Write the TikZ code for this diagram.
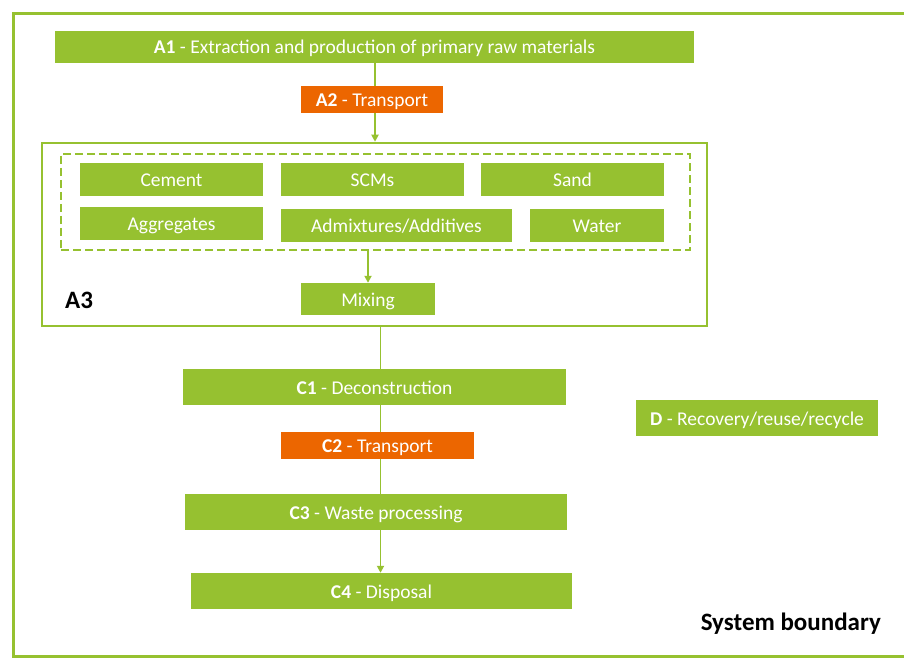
\documentclass[tikz,border=0pt]{standalone}
\usepackage{fontspec}
\setmainfont{Carlito}
\usetikzlibrary{arrows.meta}

\definecolor{lcagreen}{RGB}{150,193,48}
\definecolor{lcaorange}{RGB}{236,102,0}

\tikzset{
    stagebox/.style={fill=lcagreen, text=white, inner sep=0pt, text height=18pt, text depth=4pt, font=\fontsize{19.5}{23}\selectfont},
    transbox/.style={stagebox, fill=lcaorange},
    flow/.style={draw=lcagreen, line width=1.8pt},
    flowarrow/.style={flow, -{Triangle[length=7pt,width=7pt]}},
    bigbold/.style={inner sep=0pt, font=\fontsize{25}{29}\selectfont\bfseries}
}

\begin{document}
\begin{tikzpicture}[x=1pt, y=-1pt]
            \useasboundingbox (0, 0) rectangle (904, 660);
            \draw[lcagreen, line width=3pt] (13, 14) rectangle (930, 656);

            % production stages
            \node[stagebox, minimum width=639pt, minimum height=32pt] (A1) at (374.5, 47) {\textbf{A1} - Extraction and production of primary raw materials};
            \node[transbox, minimum width=142pt, minimum height=27pt] (A2) at (372, 99.5) {\textbf{A2} - Transport};

            \node[draw=lcagreen, line width=2.5pt, minimum width=665pt, minimum height=183pt] (A3box) at (374.5, 234.5) {};
            \node[draw=lcagreen, line width=2.5pt, dash pattern=on 8pt off 4pt, minimum width=629pt, minimum height=96pt] (mix) at (375.5, 202) {};

            \node[stagebox, minimum width=183pt, minimum height=33pt] (cement) at (171.5, 179.5) {Cement};
            \node[stagebox, minimum width=183pt, minimum height=33pt] (scms) at (372.5, 179.5) {SCMs};
            \node[stagebox, minimum width=183pt, minimum height=33pt] (sand) at (572.5, 179.5) {Sand};
            \node[stagebox, minimum width=183pt, minimum height=33pt] (aggr) at (171.5, 223.5) {Aggregates};
            \node[stagebox, minimum width=231pt, minimum height=33pt] (admix) at (396.5, 225.5) {Admixtures/Additives};
            \node[stagebox, minimum width=134pt, minimum height=33pt] (water) at (597, 225.5) {Water};

            \node[stagebox, minimum width=134pt, minimum height=32pt] (mixing) at (368, 299) {Mixing};
            \node[bigbold, anchor=west] (A3) at (65, 300) {A3};

            % end of life stages
            \node[stagebox, minimum width=383pt, minimum height=36pt] (C1) at (374.5, 387) {\textbf{C1} - Deconstruction};
            \node[transbox, minimum width=193pt, minimum height=27pt] (C2) at (377.5, 445.5) {\textbf{C2} - Transport};
            \node[stagebox, minimum width=382pt, minimum height=36pt] (C3) at (376, 512) {\textbf{C3} - Waste processing};
            \node[stagebox, minimum width=381pt, minimum height=36pt] (C4) at (381.5, 591) {\textbf{C4} - Disposal};

            \node[stagebox, minimum width=242pt, minimum height=36pt] (D) at (757, 418) {\textbf{D} - Recovery/reuse/recycle};

            \node[bigbold, anchor=east] (sysb) at (881, 624) {System boundary};

            % connectors
            \coordinate (top) at (375, 0);
            \coordinate (spine) at (380.5, 0);
            \draw[flow] (A1.south -| top) -- (A2.north -| top);
            \draw[flowarrow] (A2.south -| top) -- (A3box.north -| top);
            \draw[flowarrow] (mix.south -| mixing.north) -- (mixing.north);
            \draw[flow] (A3box.south -| spine) -- (C1.north -| spine);
            \draw[flow] (C1.south -| spine) -- (C2.north -| spine);
            \draw[flow] (C2.south -| spine) -- (C3.north -| spine);
            \draw[flowarrow] (C3.south -| spine) -- (C4.north -| spine);
\end{tikzpicture}
\end{document}
